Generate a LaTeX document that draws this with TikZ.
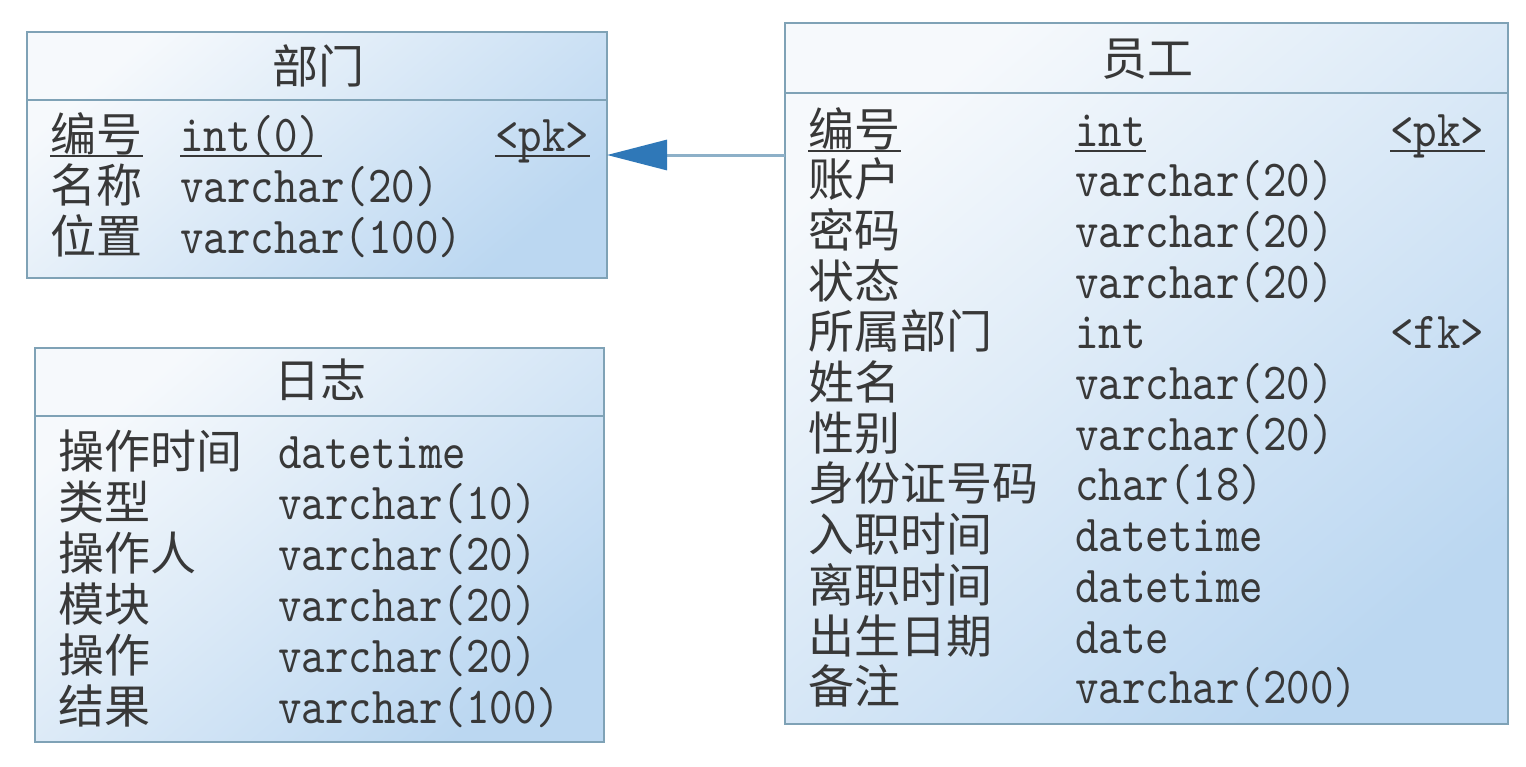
\documentclass[tikz,border=0pt]{standalone}
\usepackage{fontspec}
\setmainfont{Noto Sans CJK SC}
\setmonofont{lmmono10-regular.otf}[FakeStretch=0.86]
\usetikzlibrary{arrows.meta}
\definecolor{txt}{HTML}{383838}
\definecolor{bord}{HTML}{7FA2B6}
\definecolor{fillA}{HTML}{F6F9FC}
\definecolor{fillB}{HTML}{BBD7F1}
\definecolor{linkc}{HTML}{8DB0C8}
\definecolor{tipc}{HTML}{2F78B8}
\newcommand\myCJKsz{\fontsize{23pt}{23pt}\selectfont}
\newcommand\myTTsz{\ttfamily\fontsize{26pt}{26pt}\selectfont}
\tikzset{
  tbl/.style={draw=bord, line width=1.2pt, rectangle, anchor=north west, inner sep=0pt, outer sep=0pt,
    shading=axis, top color=fillA, bottom color=fillB, shading angle=40},
  sep/.style={draw=bord, line width=1.2pt},
  cn/.style={font=\myCJKsz, text=txt, anchor=base west, inner sep=0pt},
  hd/.style={font=\myCJKsz, text=txt, anchor=base, inner sep=0pt},
  ty/.style={font=\myTTsz, text=txt, anchor=base west, inner sep=0pt},
  ul/.style={draw=txt, line width=1pt},
  link/.style={draw=linkc, line width=1.5pt},
}
\begin{document}
\begin{tikzpicture}[x=0.5pt,y=-0.5pt]
\useasboundingbox[fill=white] (0,0) rectangle (1526,766);
% ---------- 部门 ----------
\node[tbl, minimum width=290pt, minimum height=123pt] (dept) at (27,32) {};
\coordinate (deptL) at (27,100);
\coordinate (deptR) at (607,100);
\draw[sep] (deptL) -- (deptR);
\node[hd] (deptH) at (318,83.5) {部门};
\node[cn] (d1n) at (50,151) {编号};
\node[ty] (d1t) at (180,151) {int(0)};
\node[ty] (d1k) at (495,151) {<pk>};
\node[cn] (d2n) at (50,202) {名称};
\node[ty] (d2t) at (180,202) {varchar(20)};
\node[cn] (d3n) at (50,253) {位置};
\node[ty] (d3t) at (180,253) {varchar(100)};
\foreach \n in {d1n,d1t,d1k}{
  \draw[ul] ([yshift=-2.5pt]\n.base west) -- ([yshift=-2.5pt]\n.base east);
}
% ---------- 日志 ----------
\node[tbl, minimum width=284.5pt, minimum height=197pt] (log) at (35,348) {};
\coordinate (logL) at (35,416);
\coordinate (logR) at (604,416);
\draw[sep] (logL) -- (logR);
\node[hd] (logH) at (320,397.5) {日志};
\node[cn] (l1n) at (58,468) {操作时间};
\node[ty] (l1t) at (278,468) {datetime};
\node[cn] (l2n) at (58,519) {类型};
\node[ty] (l2t) at (278,519) {varchar(10)};
\node[cn] (l3n) at (58,570) {操作人};
\node[ty] (l3t) at (278,570) {varchar(20)};
\node[cn] (l4n) at (58,621) {模块};
\node[ty] (l4t) at (278,621) {varchar(20)};
\node[cn] (l5n) at (58,672) {操作};
\node[ty] (l5t) at (278,672) {varchar(20)};
\node[cn] (l6n) at (58,723) {结果};
\node[ty] (l6t) at (278,723) {varchar(100)};
% ---------- 员工 ----------
\node[tbl, minimum width=361.5pt, minimum height=350.5pt] (emp) at (785,23) {};
\coordinate (empL) at (785,93);
\coordinate (empR) at (1508,93);
\draw[sep] (empL) -- (empR);
\node[hd] (empH) at (1147,75.5) {员工};
\node[cn] (e1n) at (808,146) {编号};
\node[ty] (e1t) at (1075,146) {int};
\node[ty] (e1k) at (1390,146) {<pk>};
\node[cn] (e2n) at (808,196.7) {账户};
\node[ty] (e2t) at (1075,196.7) {varchar(20)};
\node[cn] (e3n) at (808,247.4) {密码};
\node[ty] (e3t) at (1075,247.4) {varchar(20)};
\node[cn] (e4n) at (808,298.1) {状态};
\node[ty] (e4t) at (1075,298.1) {varchar(20)};
\node[cn] (e5n) at (808,348.8) {所属部门};
\node[ty] (e5t) at (1075,348.8) {int};
\node[ty] (e5k) at (1390,348.8) {<fk>};
\node[cn] (e6n) at (808,399.5) {姓名};
\node[ty] (e6t) at (1075,399.5) {varchar(20)};
\node[cn] (e7n) at (808,450.2) {性别};
\node[ty] (e7t) at (1075,450.2) {varchar(20)};
\node[cn] (e8n) at (808,500.9) {身份证号码};
\node[ty] (e8t) at (1075,500.9) {char(18)};
\node[cn] (e9n) at (808,551.6) {入职时间};
\node[ty] (e9t) at (1075,551.6) {datetime};
\node[cn] (e10n) at (808,602.3) {离职时间};
\node[ty] (e10t) at (1075,602.3) {datetime};
\node[cn] (e11n) at (808,653) {出生日期};
\node[ty] (e11t) at (1075,653) {date};
\node[cn] (e12n) at (808,703.7) {备注};
\node[ty] (e12t) at (1075,703.7) {varchar(200)};
\foreach \n in {e1n,e1t,e1k}{
  \draw[ul] ([yshift=-2.5pt]\n.base west) -- ([yshift=-2.5pt]\n.base east);
}
% ---------- link ----------
\draw[link, -{Triangle[length=30pt,width=15pt,color=tipc]}] (emp.west |- 0,155) -- (dept.east |- 0,155);
\end{tikzpicture}
\end{document}
